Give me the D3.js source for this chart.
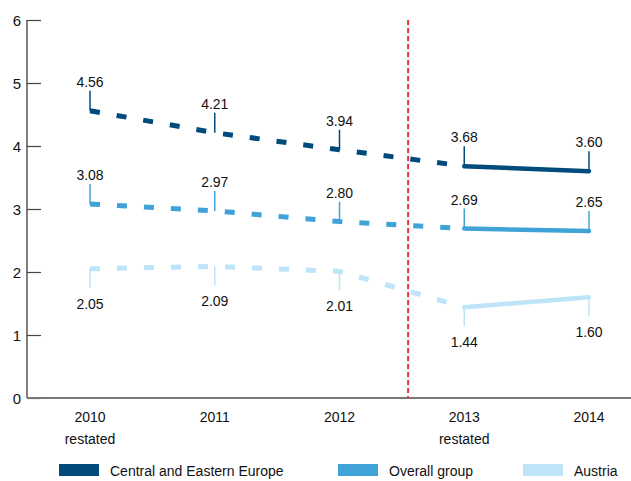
<!DOCTYPE html>
<html><head><meta charset="utf-8">
<script src="https://cdn.jsdelivr.net/npm/d3@7"></script>
<style>
html,body{margin:0;padding:0;background:#fff;}
text{font-family:"Liberation Sans",Arial,sans-serif;fill:#111;}
</style></head>
<body><svg id="chart" width="631" height="481"></svg>
<script>
const categories = ["2010", "2011", "2012", "2013", "2014"];
const subLabels = ["restated", "", "", "restated", ""];
const seriesNames = ["Central and Eastern Europe", "Overall group", "Austria"];
const ceeValues = [4.56, 4.21, 3.94, 3.68, 3.60];
const groupValues = [3.08, 2.97, 2.80, 2.69, 2.65];
const austriaValues = [2.05, 2.09, 2.01, 1.44, 1.60];
const yTicks = [0, 1, 2, 3, 4, 5, 6];
const colors = ["#004a7c", "#3fa3d8", "#bde4f8"];
const labelSide = ["above", "above", "below"];

const svg = d3.select("#chart");
const x = d3.scalePoint().domain(categories).range([90, 589]);
const y = d3.scaleLinear().domain([0, 6]).range([398, 20]);

// y axis
const yAxis = d3.axisRight(y).tickValues(yTicks).tickSize(14).tickFormat(d3.format("d"));
const gy = svg.append("g").attr("transform", "translate(27,0)").call(yAxis);
gy.select(".domain").attr("stroke", "#555").attr("stroke-width", 1.5).attr("d", `M0,${y(6)}V${y(0)}`);
gy.selectAll(".tick line").attr("stroke", "#444").attr("stroke-width", 1.2);
gy.selectAll(".tick text").attr("x", -6).attr("text-anchor", "end").attr("font-size", 15)
  .attr("font-family", "Liberation Sans, Arial, sans-serif").attr("fill", "#111").attr("dy", "0.35em");

// x axis line
svg.append("line").attr("x1", 27).attr("x2", 631).attr("y1", y(0)).attr("y2", y(0))
  .attr("stroke", "#777").attr("stroke-width", 2);

// x labels
const xl = svg.append("g");
categories.forEach((c, i) => {
  xl.append("text").attr("x", x(c)).attr("y", 422).attr("text-anchor", "middle").attr("font-size", 14).text(c);
  if (subLabels[i]) xl.append("text").attr("x", x(c)).attr("y", 444).attr("text-anchor", "middle").attr("font-size", 14).text(subLabels[i]);
});

// red divider between 2012 and 2013
const divX = x("2012") + x.step() * 0.55;
svg.append("line").attr("x1", divX).attr("x2", divX).attr("y1", y(6)).attr("y2", y(0))
  .attr("stroke", "#e8313f").attr("stroke-width", 2).attr("stroke-dasharray", "5,3");

const allSeries = [ceeValues, groupValues, austriaValues];
const line = d3.line().x((d, i) => x(categories[i])).y(d => y(d));

allSeries.forEach((vals, s) => {
  const col = colors[s];
  const g = svg.append("g");
  // leaders and labels
  vals.forEach((v, i) => {
    const px = x(categories[i]), py = y(v);
    if (labelSide[s] === "above") {
      g.append("line").attr("x1", px).attr("x2", px).attr("y1", py).attr("y2", py - 20)
        .attr("stroke", col).attr("stroke-width", 1.5);
      g.append("text").attr("x", px).attr("y", py - 24).attr("text-anchor", "middle").attr("font-size", 14).text(v.toFixed(2));
    } else {
      g.append("line").attr("x1", px).attr("x2", px).attr("y1", py).attr("y2", py + 19)
        .attr("stroke", col).attr("stroke-width", 1.5);
      g.append("text").attr("x", px).attr("y", py + 40).attr("text-anchor", "middle").attr("font-size", 14).text(v.toFixed(2));
    }
  });
  // dashed part 2010-2013
  const dashedIdx = [0, 1, 2, 3];
  g.append("path").attr("d", d3.line().x(i => x(categories[i])).y(i => y(vals[i]))(dashedIdx))
    .attr("fill", "none").attr("stroke", col).attr("stroke-width", 5).attr("stroke-dasharray", "10,17");
  // solid part 2013-2014
  g.append("path").attr("d", d3.line().x(i => x(categories[i])).y(i => y(vals[i]))([3, 4]))
    .attr("fill", "none").attr("stroke", col).attr("stroke-width", 4.5).attr("stroke-linecap", "round");
});

// legend
const legendX = [59, 338, 523];
seriesNames.forEach((n, s) => {
  svg.append("rect").attr("x", legendX[s]).attr("y", 464).attr("width", 40).attr("height", 12).attr("fill", colors[s]);
  svg.append("text").attr("x", legendX[s] + 51).attr("y", 476).attr("font-size", 14).text(n);
});
</script></body></html>
